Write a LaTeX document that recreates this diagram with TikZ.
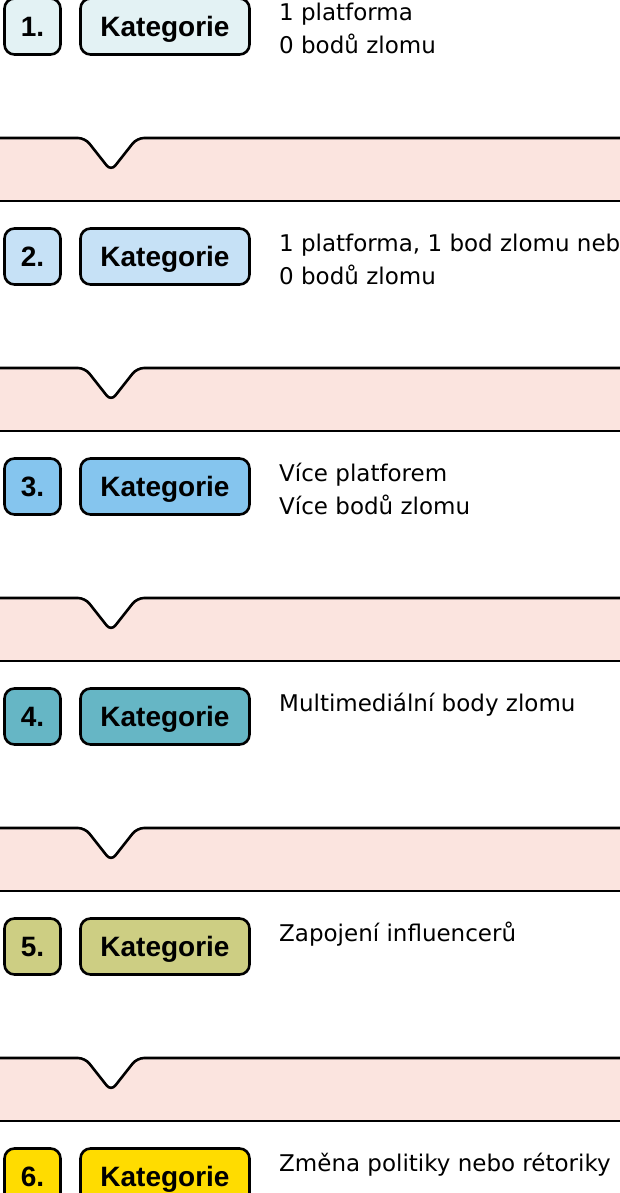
\documentclass[tikz,border=0pt]{standalone}
\usepackage{fontspec}
\setmainfont{Liberation Sans}
\newfontfamily\descfont{DejaVu Sans}
\definecolor{catA}{HTML}{E3F2F4}
\definecolor{catB}{HTML}{C6E1F6}
\definecolor{catC}{HTML}{85C5EE}
\definecolor{catD}{HTML}{66B6C5}
\definecolor{catE}{HTML}{CDCE83}
\definecolor{catF}{HTML}{FFDC00}
\definecolor{bandpink}{HTML}{FBE4DF}
\begin{document}
\begin{tikzpicture}[x=1pt,y=-1pt,
  numbox/.style={draw, line width=2.6pt, rounded corners=10pt, minimum width=56pt, minimum height=56pt, inner sep=0pt, text height=20pt, text depth=0pt, font=\fontsize{28}{32}\selectfont\bfseries},
  catbox/.style={draw, line width=2.6pt, rounded corners=10pt, minimum width=169pt, minimum height=56pt, inner sep=0pt, text height=20pt, text depth=0pt, font=\fontsize{28}{32}\selectfont\bfseries},
  desc/.style={anchor=base west, inner sep=0pt, align=left, font=\descfont\fontsize{23}{33}\selectfont},
  bandfill/.style={fill=bandpink, rounded corners=7pt},
  bandline/.style={draw, line width=2.6pt, rounded corners=7pt}]
\useasboundingbox (0,0) rectangle (619,1193);
% bands
\fill[bandfill] (-5,138) -- (85,138) -- (111,171) -- (137,138) -- (625,138) -- (625,201) -- (-5,201) -- cycle;
\draw[bandline] (-5,138) -- (85,138) -- (111,171) -- (137,138) -- (625,138);
\draw[bandline] (-5,201) -- (625,201);
\fill[bandfill] (-5,368) -- (85,368) -- (111,401) -- (137,368) -- (625,368) -- (625,431) -- (-5,431) -- cycle;
\draw[bandline] (-5,368) -- (85,368) -- (111,401) -- (137,368) -- (625,368);
\draw[bandline] (-5,431) -- (625,431);
\fill[bandfill] (-5,598) -- (85,598) -- (111,631) -- (137,598) -- (625,598) -- (625,661) -- (-5,661) -- cycle;
\draw[bandline] (-5,598) -- (85,598) -- (111,631) -- (137,598) -- (625,598);
\draw[bandline] (-5,661) -- (625,661);
\fill[bandfill] (-5,828) -- (85,828) -- (111,861) -- (137,828) -- (625,828) -- (625,891) -- (-5,891) -- cycle;
\draw[bandline] (-5,828) -- (85,828) -- (111,861) -- (137,828) -- (625,828);
\draw[bandline] (-5,891) -- (625,891);
\fill[bandfill] (-5,1058) -- (85,1058) -- (111,1091) -- (137,1058) -- (625,1058) -- (625,1121) -- (-5,1121) -- cycle;
\draw[bandline] (-5,1058) -- (85,1058) -- (111,1091) -- (137,1058) -- (625,1058);
\draw[bandline] (-5,1121) -- (625,1121);
% rows (two-line texts sit on the baseline of their last line)
\node[numbox, fill=catA] (n1) at (32.5,26.5) {1.};
\node[catbox, fill=catA] (k1) at (165,26.5) {Kategorie};
\node[desc] (d1) at (279,54) {1 platforma\\0 bodů zlomu};
\node[numbox, fill=catB] (n2) at (32.5,256.5) {2.};
\node[catbox, fill=catB] (k2) at (165,256.5) {Kategorie};
\node[desc] (d2) at (279,284) {1 platforma, 1 bod zlomu nebo\\0 bodů zlomu};
\node[numbox, fill=catC] (n3) at (32.5,486.5) {3.};
\node[catbox, fill=catC] (k3) at (165,486.5) {Kategorie};
\node[desc] (d3) at (279,514) {Více platforem\\Více bodů zlomu};
\node[numbox, fill=catD] (n4) at (32.5,716.5) {4.};
\node[catbox, fill=catD] (k4) at (165,716.5) {Kategorie};
\node[desc] (d4) at (279,711) {Multimediální body zlomu};
\node[numbox, fill=catE] (n5) at (32.5,946.5) {5.};
\node[catbox, fill=catE] (k5) at (165,946.5) {Kategorie};
\node[desc] (d5) at (279,941) {Zapojení influencerů};
\node[numbox, fill=catF] (n6) at (32.5,1176.5) {6.};
\node[catbox, fill=catF] (k6) at (165,1176.5) {Kategorie};
\node[desc] (d6) at (279,1171) {Změna politiky nebo rétoriky};
\end{tikzpicture}
\end{document}
